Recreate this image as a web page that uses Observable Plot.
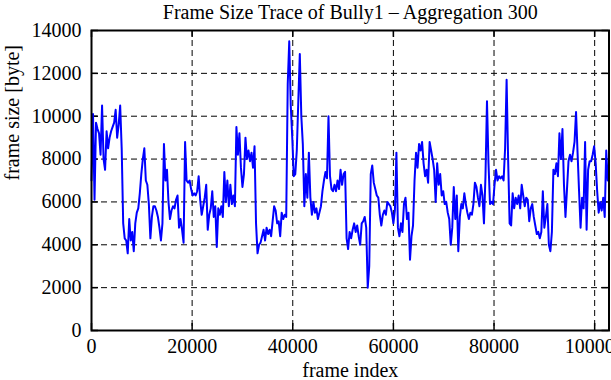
<!DOCTYPE html>
<html><head><meta charset="utf-8">
<script src="https://cdn.jsdelivr.net/npm/d3@7"></script>
<script src="https://cdn.jsdelivr.net/npm/@observablehq/plot@0.6"></script>
<style>html,body{margin:0;padding:0;background:#fff}</style>
</head><body><div id="chart"></div>
<script>
const title = "Frame Size Trace of Bully1 \u2013 Aggregation 300";
const xLabel = "frame index";
const yLabel = "frame size [byte]";
const aggregation = 300;
const xTicks = [0, 20000, 40000, 60000, 80000, 100000];
const yTicks = [0, 2000, 4000, 6000, 8000, 10000, 12000, 14000];
const frameSizes = [
  7000, 10100, 6100, 9700, 9400, 9200, 8200, 10500, 8000, 7500,
  9300, 8500, 9000, 9300, 9500, 9700, 10300, 9000, 9600, 10500,
  8500, 5000, 4300, 4200, 3600, 5200, 4200, 4600, 3700, 5000,
  5500, 5700, 6400, 7300, 8000, 8500, 7000, 6800, 5900, 4300,
  5300, 5800, 5800, 5600, 5300, 4800, 4200, 5000, 8700, 7000,
  7500, 6000, 5200, 5600, 5800, 5700, 6100, 6300,
  4800, 5200, 4700, 4100, 8800, 7000, 6900, 7000, 6600, 6300,
  6400, 6300, 6500, 7200, 6100, 5400, 5800, 6200, 6800, 4700,
  5400, 5700, 6500, 5300, 5800, 3900, 5700, 5400, 5800, 5300,
  7400, 6000, 7000, 5800, 6800, 5900, 6300, 5800, 9500, 8200,
  9200, 7600, 6700, 7300, 9000, 8000, 8400, 7900, 8300, 7600,
  8600, 5000, 3600, 4000, 4100, 4400, 4700,
  4200, 4800, 4500, 4700, 4400, 5100, 5800, 5600, 5000, 5100,
  4400, 5500, 5200, 5400, 5300, 11500, 13500, 10500, 9000, 7200,
  7300, 8400, 10700, 12900, 10000, 8700, 5800, 7300, 6200, 8300,
  6200, 5400, 6000, 5500, 5700, 5200, 5500, 5800, 6500, 7000,
  7400, 7100, 10000, 7200, 6600, 6500, 6800, 6500, 7000, 6600,
  7500, 6800, 7300, 7400, 4300, 3800, 4600,
  4300, 4700, 5000, 4600, 4900, 4400, 4000, 5000, 5100, 5300,
  4800, 2000, 3000, 7300, 7700, 6900, 6600, 6300, 6200, 5400,
  4900, 5400, 5600, 5400, 6000, 5900, 5800, 5500, 5000, 5600,
  8300, 4800, 4400, 5000, 4600, 5900, 6200, 5200, 5500, 3300,
  4400, 4900, 7000, 8300, 7600, 8700, 8400, 8800, 7800, 7200,
  7500, 6900, 8800, 8400, 8000, 7500, 6000,
  7800, 6800, 7300, 6300, 6500, 5900, 6000, 5500, 5200, 4000,
  4800, 6700, 5200, 6300, 3700, 5300, 5900, 5700, 6400, 5900,
  5500, 5200, 5500, 5400, 5900, 6900, 6700, 6200, 5800, 6800,
  6300, 5000, 7200, 10700, 7800, 5900, 6000, 5900, 6800, 7500,
  7000, 7200, 7100, 7200, 7000, 8500, 11700, 8000, 5000, 4900,
  6400, 5700, 6200, 5900, 6300, 5700, 6800,
  6300, 5800, 6200, 6100, 5100, 5700, 5900, 5300, 4900, 4500,
  4600, 4300, 4600, 6500, 4800, 5300, 5900, 4000, 3700, 4600,
  7500, 7300, 7800, 7200, 9200, 8000, 9400, 6800, 5300, 6600,
  7900, 8200, 7900, 8300, 8800, 10200, 8300, 6500, 4800, 6200,
  5700, 8800, 4700, 7500, 7900, 7900, 8200, 8600, 7800, 6500,
  5500, 6000, 5600, 6200, 5300, 8400, 7000
];
const data = frameSizes.map((v, i) => ({frame: i * aggregation, size: v}));

const W = 611, H = 380, mL = 91, mR = 2.5, mT = 30, mB = 50;
const plotW = W - mL - mR, plotH = H - mT - mB;
const tickLen = 7;
const font = "'Liberation Serif', 'Times New Roman', Times, serif";
const fmt = d => String(d);

const chart = Plot.plot({
  width: W, height: H,
  marginLeft: mL, marginRight: mR, marginTop: mT, marginBottom: mB,
  style: {fontFamily: font, fontSize: "20px", background: "white", color: "black", overflow: "visible"},
  x: {domain: [0, 102850], axis: null},
  y: {domain: [0, 14000], axis: null},
  marks: [
    Plot.ruleX(xTicks.slice(1), {x: d => d, stroke: "black", strokeWidth: 1, strokeDasharray: "6,4"}),
    Plot.ruleY(yTicks.slice(1, -1), {y: d => d, stroke: "black", strokeWidth: 1, strokeDasharray: "6,4"}),
    Plot.tickX(xTicks, {x: d => d, insetTop: plotH - tickLen, stroke: "black", strokeWidth: 1.5}),
    Plot.tickX(xTicks, {x: d => d, insetBottom: plotH - tickLen, stroke: "black", strokeWidth: 1.5}),
    Plot.tickY(yTicks, {y: d => d, insetRight: plotW - tickLen, stroke: "black", strokeWidth: 1.5}),
    Plot.tickY(yTicks, {y: d => d, insetLeft: plotW - tickLen, stroke: "black", strokeWidth: 1.5}),
    Plot.line(data, {x: "frame", y: "size", stroke: "#0000ff", strokeWidth: 2}),
    Plot.frame({stroke: "black", strokeWidth: 2}),
    Plot.axisX(xTicks, {tickSize: 0, tickPadding: 8, fontSize: 20, label: null, fill: "black", tickFormat: fmt}),
    Plot.axisY(yTicks, {tickSize: 0, tickPadding: 10, fontSize: 20, label: null, fill: "black", tickFormat: fmt}),
    Plot.text([title], {text: d => d, frameAnchor: "top", lineAnchor: "middle", dy: -18, fontSize: 20, fill: "black"}),
    Plot.text([xLabel], {text: d => d, frameAnchor: "bottom", lineAnchor: "middle", dy: 40, fontSize: 20, fill: "black"}),
    Plot.text([yLabel], {text: d => d, frameAnchor: "left", lineAnchor: "middle", dx: -79, rotate: -90, fontSize: 20, fill: "black"})
  ]
});
document.getElementById("chart").appendChild(chart);
</script>
</body></html>
